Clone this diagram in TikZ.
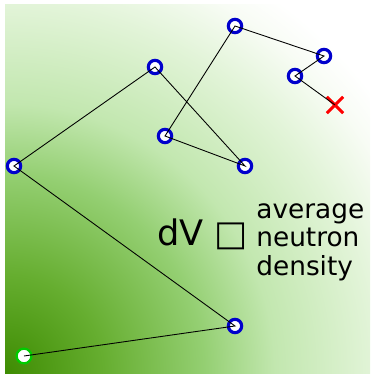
\documentclass[tikz,border=0pt]{standalone}
\usepackage{fontspec}
\setmainfont{DejaVu Sans}
\usetikzlibrary{shapes.misc}
\definecolor{darkgrass}{RGB}{62,140,2}
\definecolor{deepgrass}{RGB}{102,174,48}
\definecolor{midgrass}{RGB}{148,207,114}
\definecolor{softgrass}{RGB}{194,231,175}
\definecolor{palegrass}{RGB}{226,244,216}
\definecolor{mistgrass}{RGB}{248,252,245}
\definecolor{ringblue}{HTML}{0000CC}
\definecolor{startgreen}{HTML}{00CC00}
% radii in bp, 1px = 0.565bp
\pgfdeclareradialshading{fieldshade}{\pgfpoint{0bp}{0bp}}{color(0bp)=(darkgrass); color(56bp)=(deepgrass); color(113bp)=(midgrass); color(153bp)=(softgrass); color(209bp)=(palegrass); color(243bp)=(mistgrass); color(262bp)=(white); color(300bp)=(white)}

\tikzset{
	site/.style={circle, draw=ringblue, fill=white, line width=1.8pt, minimum size=7.6pt, inner sep=0pt},
	startsite/.style={circle, draw=startgreen, fill=white, line width=1.3pt, minimum size=8.4pt, inner sep=0pt},
	hop/.style={draw=black, line width=0.5pt},
}

\begin{document}
\begin{tikzpicture}[x=0.02cm, y=-0.02cm]
	\useasboundingbox (0,0) rectangle (372,375);
	\begin{scope}
		\clip (5,5) rectangle (370,373);
		\node[inner sep=0pt, outer sep=0pt] (glow) at (5,373) {\pgfuseshading{fieldshade}};
	\end{scope}

	% the walk
	\foreach \n/\x/\y in {1/235/326, 2/14/166, 3/155/67, 4/245/166, 5/165/136, 6/235/26, 7/324/56, 8/295/76}
		\node[site] (s\n) at (\x,\y) {};
	\node[startsite] (s0) at (24,356) {};
	\node[cross out, draw=red, line width=1.7pt, minimum size=7.6pt, inner sep=0pt] (end) at (335,105) {};
	\draw[hop] (s0.center) -- (s1.center) -- (s2.center) -- (s3.center) -- (s4.center)
		-- (s5.center) -- (s6.center) -- (s7.center) -- (s8.center) -- (end.center);

	% label
	\node[anchor=base west, inner sep=0pt, font=\fontsize{20}{24}\selectfont] (dv) at (157,245) {dV □};
	\node[anchor=base west, inner sep=0pt, align=left, font=\fontsize{15}{16}\selectfont] (density) at (256,275) {average\\neutron\\density};
\end{tikzpicture}
\end{document}
